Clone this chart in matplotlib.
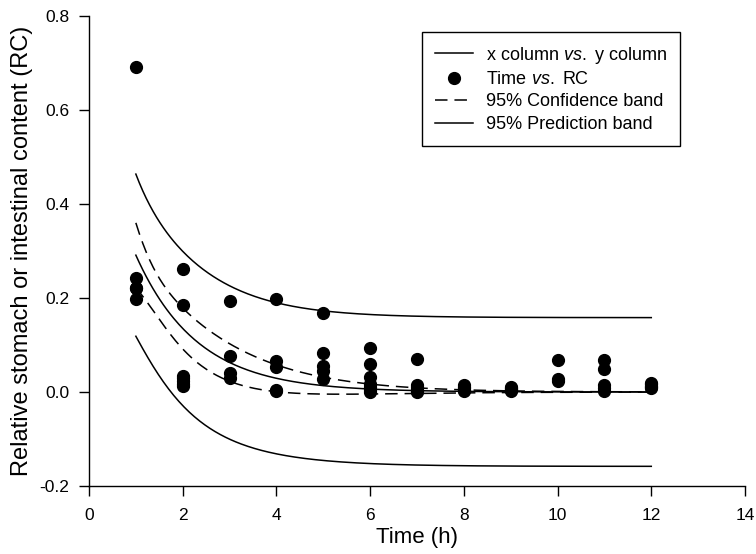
import numpy as np
import matplotlib
matplotlib.use("Agg")
import matplotlib.pyplot as plt
from matplotlib.lines import Line2D

plt.rcParams["font.family"] = ["Liberation Sans", "DejaVu Sans"]
plt.rcParams["mathtext.fontset"] = "custom"
plt.rcParams["mathtext.rm"] = "Liberation Sans"
plt.rcParams["mathtext.it"] = "Liberation Sans:italic"
plt.rcParams["axes.unicode_minus"] = False
plt.rcParams["lines.scale_dashes"] = False

# ── observations: relative content (RC) per sampling hour ──────────
rc_by_hour = {
    1:  [0.692, 0.243, 0.222, 0.222, 0.197],
    2:  [0.262, 0.186, 0.034, 0.030, 0.024, 0.018, 0.012],
    3:  [0.194, 0.076, 0.040, 0.030],
    4:  [0.197, 0.066, 0.054, 0.004, 0.002],
    5:  [0.169, 0.082, 0.055, 0.045, 0.027],
    6:  [0.093, 0.059, 0.032, 0.018, 0.010, 0.005, 0.001],
    7:  [0.070, 0.014, 0.010, 0.006, 0.003, 0.000],
    8:  [0.015, 0.010, 0.008, 0.005, 0.002],
    9:  [0.010, 0.008, 0.006, 0.004, 0.003],
    10: [0.068, 0.028, 0.024],
    11: [0.068, 0.048, 0.015, 0.008, 0.002],
    12: [0.020, 0.016, 0.013, 0.010, 0.008],
}
time_h = np.array([h for h, v in rc_by_hour.items() for _ in v], dtype=float)
rc = np.array([x for v in rc_by_hour.values() for x in v])

x_ticks = [0, 2, 4, 6, 8, 10, 12, 14]
y_ticks = [-0.2, 0.0, 0.2, 0.4, 0.6, 0.8]
T_CRIT = 2.0003  # two-sided 95 %, df = n - 2 = 60


# ── single exponential decay fit  y = a * exp(-b t)  (Gauss-Newton) ─
def model(t, a, b):
    return a * np.exp(-b * t)

def jac(t, a, b):
    e = np.exp(-b * t)
    return np.column_stack([e, -a * t * e])

a, b = 0.5, 0.5
for _ in range(100):
    r = rc - model(time_h, a, b)
    J = jac(time_h, a, b)
    step = np.linalg.solve(J.T @ J, J.T @ r)
    a, b = a + step[0], b + step[1]
    if np.abs(step).max() < 1e-12:
        break

n, p = len(rc), 2
resid = rc - model(time_h, a, b)
s2 = resid @ resid / (n - p)
J = jac(time_h, a, b)
cov = s2 * np.linalg.inv(J.T @ J)

t_fit = np.linspace(1, 12, 300)
y_fit = model(t_fit, a, b)
G = jac(t_fit, a, b)
var_mean = np.einsum("ij,jk,ik->i", G, cov, G)
conf = T_CRIT * np.sqrt(var_mean)
pred = T_CRIT * np.sqrt(var_mean + s2)

# ── figure ───────────────────────────────────────────────────────────
fig = plt.figure(figsize=(7.56, 5.54), dpi=100)
ax = fig.add_axes([89 / 756, 1 - 486 / 554, (745 - 89) / 756, (486 - 16) / 554])

LW = 1.1
DASH = (9, 5)
ax.plot(t_fit, y_fit, color="black", lw=LW)
ax.plot(t_fit, y_fit + conf, color="black", lw=LW, dashes=DASH)
ax.plot(t_fit, y_fit - conf, color="black", lw=LW, dashes=DASH)
ax.plot(t_fit, y_fit + pred, color="black", lw=LW)
ax.plot(t_fit, y_fit - pred, color="black", lw=LW)
ax.plot(time_h, rc, "o", color="black", ms=8.5, mec="black", zorder=5)

ax.set_xlim(0, 14)
ax.set_ylim(-0.2, 0.8)
ax.set_xticks(x_ticks)
ax.set_yticks(y_ticks)
ax.set_yticklabels([f"{v:.1f}" for v in y_ticks])
for side in ("top", "right"):
    ax.spines[side].set_visible(False)
for side in ("left", "bottom"):
    ax.spines[side].set_linewidth(1.0)
ax.tick_params(direction="out", length=7, width=1.0, labelsize=12.5)
ax.tick_params(axis="x", pad=9)
ax.tick_params(axis="y", pad=7)

ax.set_xlabel("Time (h)", fontsize=16, labelpad=3)
ax.set_ylabel("Relative stomach or intestinal content (RC)", fontsize=17,
              labelpad=5)

handles = [
    Line2D([], [], color="black", lw=LW),
    Line2D([], [], ls="none", marker="o", color="black", ms=8.5),
    Line2D([], [], color="black", lw=LW, dashes=DASH),
    Line2D([], [], color="black", lw=LW),
]
labels = [
    r"x column $\it{vs.}$ y column",
    r"Time $\it{vs.}$ RC",
    "95% Confidence band",
    "95% Prediction band",
]
leg = ax.legend(handles, labels, loc="upper left",
                bbox_to_anchor=(422 / 756, 1 - 32 / 554),
                bbox_transform=fig.transFigure,
                fontsize=13, frameon=True, fancybox=False, framealpha=1,
                edgecolor="black", borderaxespad=0, handlelength=2.1,
                handletextpad=0.75, labelspacing=0.3, borderpad=0.7)
leg.get_frame().set_linewidth(1.0)

fig.savefig("out.png", dpi=100)
